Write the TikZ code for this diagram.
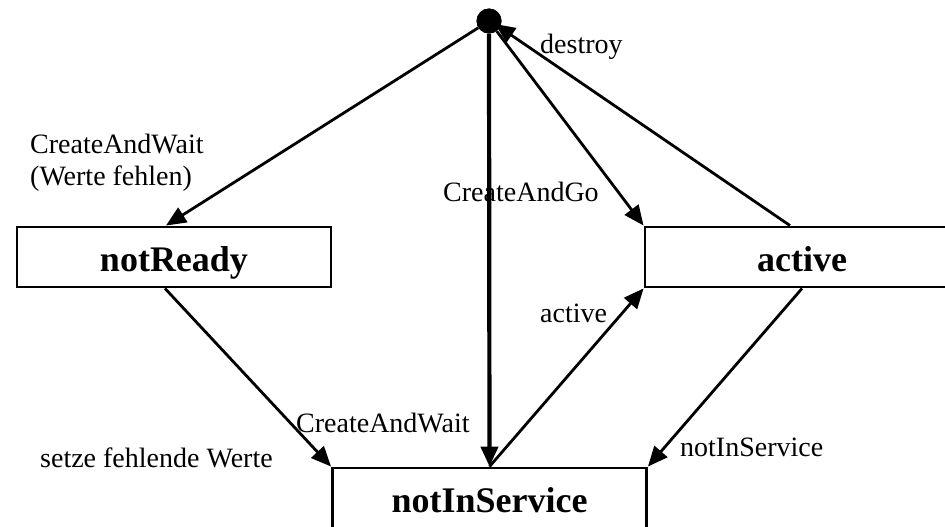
\documentclass[tikz,border=0pt]{standalone}
\usepackage{fontspec}
\setmainfont{Liberation Serif}
\usetikzlibrary{arrows.meta}
\begin{document}
\begin{tikzpicture}[x=1pt,y=-1pt,
  statebox/.style={draw,line width=2.9pt,minimum width=314pt,minimum height=60pt,
    inner sep=0pt,text height=30pt,text depth=2pt,
    font=\fontsize{36}{40}\selectfont\bfseries},
  lbl/.style={inner sep=0pt,anchor=west,font=\fontsize{28}{32}\selectfont},
  trans/.style={line width=2.8pt,-{Triangle[length=20pt,width=17pt]}},
  initdot/.style={circle,fill=black,inner sep=0pt,minimum size=25pt}]
\useasboundingbox (0,0) rectangle (945,527);
\clip (0,0) rectangle (945,527);

% states
\node[statebox] (nr)  at (174,257)   {notReady};
\node[statebox] (ac)  at (802,257)   {active};
\node[statebox] (nis) at (489.5,498) {notInService};
\node[initdot]  (init) at (489,21) {};

% transitions
\draw[trans] (init) -- ([xshift=-8pt]nr.north);
\draw[trans,line width=4.2pt] (init.south) -- (nis.north);
\draw[trans] (init) -- (ac.north west);
\draw[trans] ([xshift=-12pt]ac.north) -- ([xshift=6pt,yshift=-3pt]init.center);
\draw[trans] ([xshift=-9pt]nr.south) -- (nis.north west);
\draw[trans] (nis.north) -- (ac.south west);
\draw[trans] (ac.south) -- (nis.north east);

% dot drawn again on top of the arrow tip that ends in it
\fill (init) circle[radius=12.5pt];

% labels
\node[lbl,align=left] (l1) at (30,163) {CreateAndWait\\(Werte fehlen)};
\node[lbl] (l2) at (540,47)  {destroy};
\node[lbl] (l3) at (443,192) {CreateAndGo};
\node[lbl] (l4) at (540,313) {active};
\node[lbl] (l5) at (296,423) {CreateAndWait};
\node[lbl] (l6) at (40,458)  {setze fehlende Werte};
\node[lbl] (l7) at (680,447) {notInService};
\end{tikzpicture}
\end{document}
